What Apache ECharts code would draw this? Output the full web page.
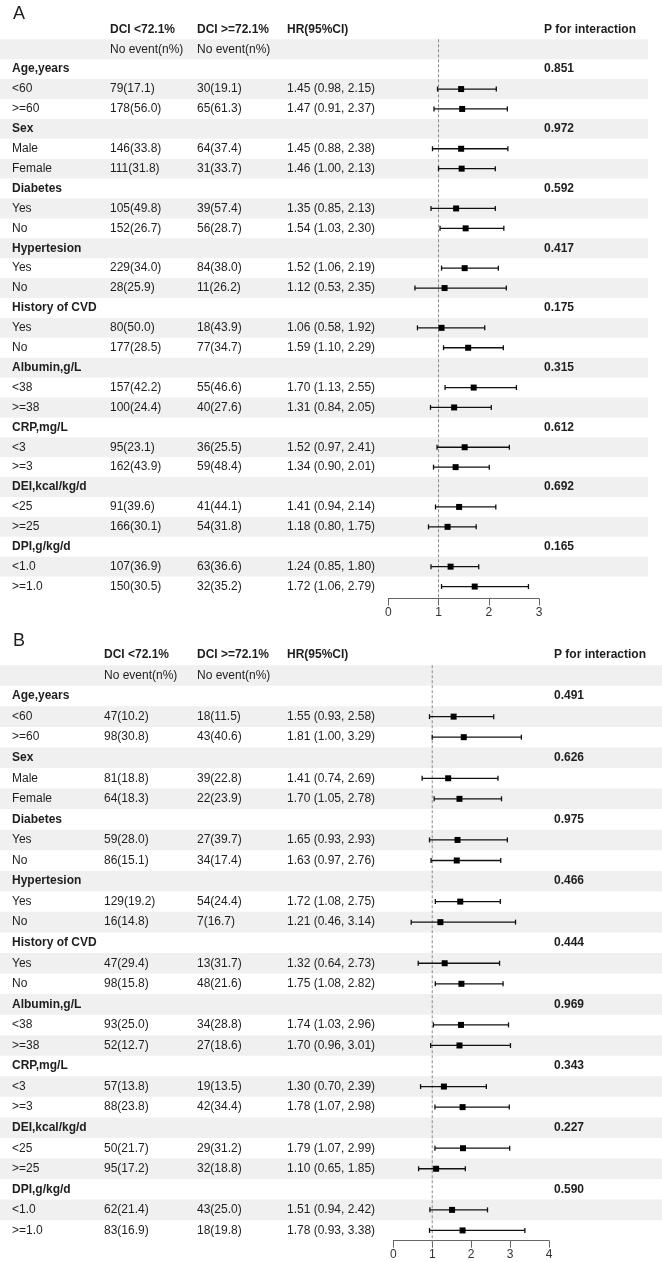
<!DOCTYPE html>
<html>
<head>
<meta charset="utf-8">
<title>Subgroup forest plots</title>
<script src="https://cdn.jsdelivr.net/npm/echarts@6/dist/echarts.min.js"></script>
<style>
  html, body { margin: 0; padding: 0; background: #fff; }
  #main { width: 662px; height: 1262px; }
</style>
</head>
<body>
<div id="main"></div>
<script>
// subgroups and their levels (same for both panels)
const groups = ['Age,years', 'Sex', 'Diabetes', 'Hypertesion', 'History of CVD', 'Albumin,g/L', 'CRP,mg/L', 'DEI,kcal/kg/d', 'DPI,g/kg/d']
const levels = [['<60', '>=60'], ['Male', 'Female'], ['Yes', 'No'], ['Yes', 'No'], ['Yes', 'No'], ['<38', '>=38'], ['<3', '>=3'], ['<25', '>=25'], ['<1.0', '>=1.0']]

// panel A
const aLow = ['79(17.1)', '178(56.0)', '146(33.8)', '111(31.8)', '105(49.8)', '152(26.7)', '229(34.0)', '28(25.9)', '80(50.0)', '177(28.5)', '157(42.2)', '100(24.4)', '95(23.1)', '162(43.9)', '91(39.6)', '166(30.1)', '107(36.9)', '150(30.5)']
const aHigh = ['30(19.1)', '65(61.3)', '64(37.4)', '31(33.7)', '39(57.4)', '56(28.7)', '84(38.0)', '11(26.2)', '18(43.9)', '77(34.7)', '55(46.6)', '40(27.6)', '36(25.5)', '59(48.4)', '41(44.1)', '54(31.8)', '63(36.6)', '32(35.2)']
const aHr = [1.45, 1.47, 1.45, 1.46, 1.35, 1.54, 1.52, 1.12, 1.06, 1.59, 1.70, 1.31, 1.52, 1.34, 1.41, 1.18, 1.24, 1.72]
const aLo = [0.98, 0.91, 0.88, 1.00, 0.85, 1.03, 1.06, 0.53, 0.58, 1.10, 1.13, 0.84, 0.97, 0.90, 0.94, 0.80, 0.85, 1.06]
const aHi = [2.15, 2.37, 2.38, 2.13, 2.13, 2.30, 2.19, 2.35, 1.92, 2.29, 2.55, 2.05, 2.41, 2.01, 2.14, 1.75, 1.80, 2.79]
const aP = ['0.851', '0.972', '0.592', '0.417', '0.175', '0.315', '0.612', '0.692', '0.165']
const aTicks = [0, 3]

// panel B
const bLow = ['47(10.2)', '98(30.8)', '81(18.8)', '64(18.3)', '59(28.0)', '86(15.1)', '129(19.2)', '16(14.8)', '47(29.4)', '98(15.8)', '93(25.0)', '52(12.7)', '57(13.8)', '88(23.8)', '50(21.7)', '95(17.2)', '62(21.4)', '83(16.9)']
const bHigh = ['18(11.5)', '43(40.6)', '39(22.8)', '22(23.9)', '27(39.7)', '34(17.4)', '54(24.4)', '7(16.7)', '13(31.7)', '48(21.6)', '34(28.8)', '27(18.6)', '19(13.5)', '42(34.4)', '29(31.2)', '32(18.8)', '43(25.0)', '18(19.8)']
const bHr = [1.55, 1.81, 1.41, 1.70, 1.65, 1.63, 1.72, 1.21, 1.32, 1.75, 1.74, 1.70, 1.30, 1.78, 1.79, 1.10, 1.51, 1.78]
const bLo = [0.93, 1.00, 0.74, 1.05, 0.93, 0.97, 1.08, 0.46, 0.64, 1.08, 1.03, 0.96, 0.70, 1.07, 1.07, 0.65, 0.94, 0.93]
const bHi = [2.58, 3.29, 2.69, 2.78, 2.93, 2.76, 2.75, 3.14, 2.73, 2.82, 2.96, 3.01, 2.39, 2.98, 2.99, 1.85, 2.42, 3.38]
const bP = ['0.491', '0.626', '0.975', '0.466', '0.444', '0.969', '0.343', '0.227', '0.590']
const bTicks = [0, 4]

const FONT = '"Liberation Sans", Arial, sans-serif'
const TXT = '#1e1e1e'

function fmt(v) { return v.toFixed(2) }

// build the table rows of one panel
function buildRows(low, high, hr, lo, hi, p) {
  const rows = []
  rows.push({ kind: 'head' })
  rows.push({ kind: 'sub' })
  let k = 0
  groups.forEach(function(g, gi) {
    rows.push({ kind: 'group', label: g, p: p[gi] })
    levels[gi].forEach(function(lv) {
      rows.push({ kind: 'level', label: lv, low: low[k], high: high[k], hr: hr[k], lo: lo[k], hi: hi[k] })
      k++
    })
  })
  return rows
}

function cellsOf(r, cols) {
  const n = { fontWeight: 'normal' }
  const b = { fontWeight: 'bold' }
  if (r.kind === 'head') {
    return [
      [cols.low, 'DCI <72.1%', b], [cols.high, 'DCI >=72.1%', b],
      [cols.hr, 'HR(95%CI)', b], [cols.p, 'P for interaction', b]
    ]
  }
  if (r.kind === 'sub') return [[cols.low, 'No event(n%)', n], [cols.high, 'No event(n%)', n]]
  if (r.kind === 'group') return [[cols.label, r.label, b], [cols.p, r.p, b]]
  return [
    [cols.label, r.label, n], [cols.low, r.low, n], [cols.high, r.high, n],
    [cols.hr, fmt(r.hr) + ' (' + fmt(r.lo) + ', ' + fmt(r.hi) + ')', n]
  ]
}

function tableRender(rows, cols) {
  return function(params, api) {
    const i = api.value(1)
    const c = api.coord([0, i])
    const h = api.size([0, 1])[1]
    const children = []
    if (i % 2 === 1) {
      const x0 = api.coord([0, i])[0]
      const x1 = api.coord([cols.stripeEnd, i])[0]
      children.push({ type: 'rect', shape: { x: x0, y: c[1] - h / 2, width: x1 - x0, height: h }, style: { fill: '#f0f0f0' } })
    }
    cellsOf(rows[i], cols).forEach(function(cell) {
      children.push({
        type: 'text',
        x: api.coord([cell[0], i])[0],
        y: c[1],
        style: {
          text: cell[1], fill: TXT, fontSize: 12, fontFamily: FONT,
          fontWeight: cell[2].fontWeight, align: 'left', verticalAlign: 'middle'
        }
      })
    })
    return { type: 'group', children: children }
  }
}

function refRender(params, api) {
  const p = api.coord([api.value(0), api.value(1)])
  const h = api.size([0, 1])[1]
  const bottom = params.coordSys.y + params.coordSys.height + 2
  return {
    type: 'line',
    shape: { x1: p[0], y1: p[1] - h / 2, x2: p[0], y2: bottom },
    style: { stroke: '#8a8a8a', lineWidth: 1, lineDash: [3, 2] }
  }
}

function ciRender(params, api) {
  const y = api.value(1)
  const m = api.coord([api.value(0), y])
  const a = api.coord([api.value(2), y])
  const z = api.coord([api.value(3), y])
  const st = { stroke: '#111', lineWidth: 1.3 }
  return {
    type: 'group',
    children: [
      { type: 'line', shape: { x1: a[0], y1: m[1], x2: z[0], y2: m[1] }, style: st },
      { type: 'line', shape: { x1: a[0], y1: m[1] - 2.5, x2: a[0], y2: m[1] + 2.5 }, style: st },
      { type: 'line', shape: { x1: z[0], y1: m[1] - 2.5, x2: z[0], y2: m[1] + 2.5 }, style: st },
      { type: 'rect', shape: { x: m[0] - 3, y: m[1] - 3, width: 6, height: 6 }, style: { fill: '#000' } }
    ]
  }
}

const panels = [
  {
    title: 'A', titleTop: 0,
    rows: buildRows(aLow, aHigh, aHr, aLo, aHi, aP), ticks: aTicks,
    cols: { label: 12, low: 110, high: 197, hr: 287, p: 544, stripeEnd: 648 },
    top: 19.4, height: 577.1, plotLeft: 388.3, plotWidth: 150.7, axisOffset: 2
  },
  {
    title: 'B', titleTop: 627,
    rows: buildRows(bLow, bHigh, bHr, bLo, bHi, bP), ticks: bTicks,
    cols: { label: 12, low: 104, high: 197, hr: 287, p: 554, stripeEnd: 662 },
    top: 644.7, height: 596, plotLeft: 393.3, plotWidth: 155.7, axisOffset: 0
  }
]

const option = {
  animation: false,
  backgroundColor: '#fff',
  title: [], grid: [], xAxis: [], yAxis: [], series: []
}

panels.forEach(function(pn, pi) {
  const cats = pn.rows.map(function(r, i) { return 'r' + i })
  const gT = pi * 2
  const gF = pi * 2 + 1
  option.title.push({
    text: pn.title, left: 8, top: pn.titleTop,
    textStyle: { fontSize: 18, fontWeight: 'normal', color: TXT, fontFamily: FONT }
  })
  option.grid.push({ left: 0, top: pn.top, width: 662, height: pn.height })
  option.grid.push({ left: pn.plotLeft, top: pn.top, width: pn.plotWidth, height: pn.height })
  option.xAxis.push({ gridIndex: gT, type: 'value', min: 0, max: 662, show: false })
  option.xAxis.push({
    gridIndex: gF, type: 'value', min: pn.ticks[0], max: pn.ticks[1], interval: 1,
    offset: pn.axisOffset,
    splitLine: { show: false },
    axisLine: { show: true, lineStyle: { color: '#666', width: 1 } },
    axisTick: { show: true, length: 7, lineStyle: { color: '#666' } },
    axisLabel: { fontSize: 12, color: '#333', margin: 8, fontFamily: FONT }
  })
  option.yAxis.push({ gridIndex: gT, type: 'category', inverse: true, data: cats, show: false })
  option.yAxis.push({ gridIndex: gF, type: 'category', inverse: true, data: cats, show: false })

  option.series.push({
    type: 'custom', xAxisIndex: gT, yAxisIndex: gT, z: 1, silent: true,
    renderItem: tableRender(pn.rows, pn.cols),
    data: pn.rows.map(function(r, i) { return [0, i] })
  })
  option.series.push({
    type: 'custom', xAxisIndex: gF, yAxisIndex: gF, z: 2, silent: true,
    renderItem: refRender,
    data: [[1, 1]]
  })
  const ci = []
  pn.rows.forEach(function(r, i) {
    if (r.kind === 'level') ci.push([r.hr, i, r.lo, r.hi])
  })
  option.series.push({
    type: 'custom', xAxisIndex: gF, yAxisIndex: gF, z: 3, silent: true,
    renderItem: ciRender,
    encode: { x: 0, y: 1 },
    data: ci
  })
})

const chart = echarts.init(document.getElementById('main'))
chart.setOption(option)
</script>
</body>
</html>
